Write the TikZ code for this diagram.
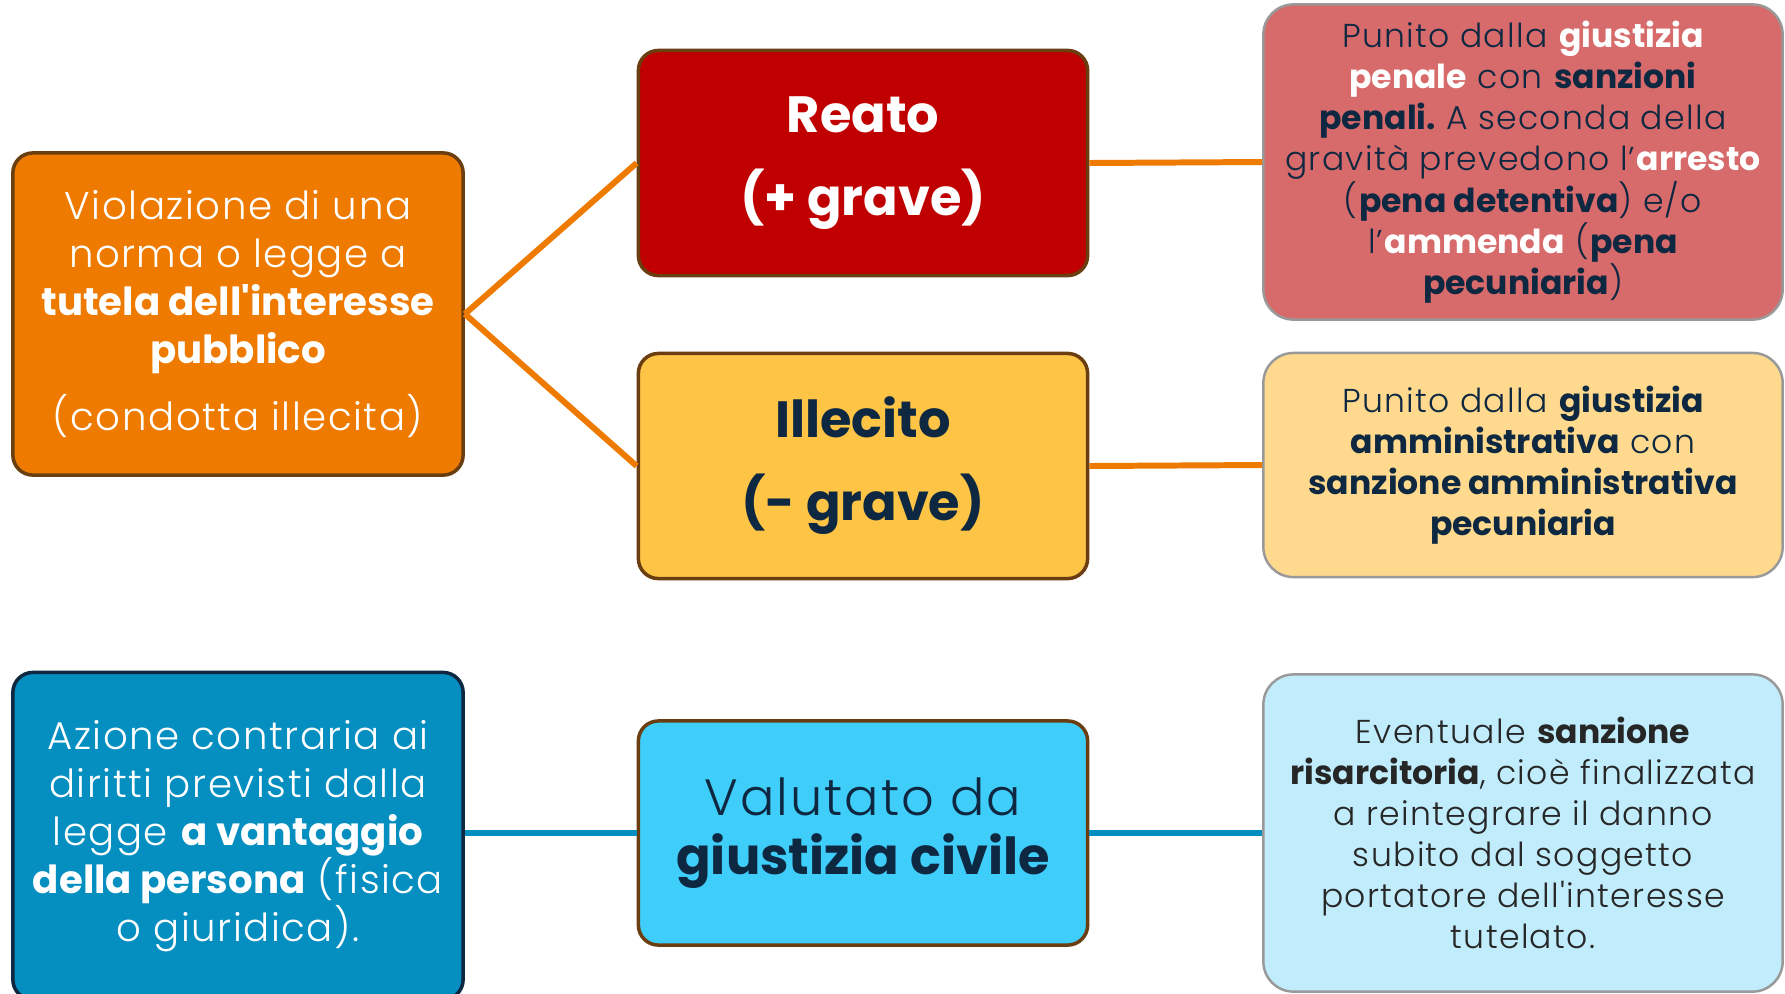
\documentclass[tikz,border=0pt]{standalone}
\usepackage{fontspec}
\defaultfontfeatures[\rmfamily]{}
\setmainfont{Poppins}[UprightFont={* Light},UprightFeatures={LetterSpace=4},BoldFont={* Bold}]
\frenchspacing
\definecolor{arancio}{HTML}{EE7B00}
\definecolor{rosso}{HTML}{C00000}
\definecolor{giallo}{HTML}{FEC446}
\definecolor{rosa}{HTML}{D76A6A}
\definecolor{crema}{HTML}{FED98E}
\definecolor{blu}{HTML}{058EC0}
\definecolor{azzurro}{HTML}{3FCDFA}
\definecolor{celeste}{HTML}{C0ECFB}
\definecolor{navy}{HTML}{0E2841}
\definecolor{bordo}{HTML}{6B3E12}
\newcommand{\wb}[1]{\textbf{\textcolor{white}{#1}}}
\begin{document}
\begin{tikzpicture}[x=0.01cm,y=-0.01cm,
		box/.style={draw=bordo, line width=1pt, rounded corners=0.2cm, align=center, inner sep=0pt},
		info/.style={draw=gray!80, line width=0.7pt, rounded corners=0.3cm, align=center, inner sep=0pt,
			minimum width=5.19cm, text=navy, font=\fontsize{9.4}{11.7}\selectfont},
		big/.style={box, minimum width=4.49cm, minimum height=2.25cm, font=\fontsize{14.5}{23.6}\selectfont\bfseries},
		side/.style={box, minimum width=4.5cm, text=white, font=\fontsize{11}{13.6}\selectfont},
		linkarancio/.style={draw=arancio, line width=1.7pt},
		linkblu/.style={draw=blu, line width=1.7pt}]
		
		\clip (0,0) rectangle (1785,993);
		\fill[white] (0,0) rectangle (1785,993);
		
		\node[side, fill=arancio, minimum height=3.22cm] (violazione) at (238,314)
			{Violazione di una\\norma o legge a\\\textbf{tutela dell'interesse}\\\textbf{pubblico}\\[5.4pt](condotta illecita)};
		\node[big, fill=rosso, text=white] (reato) at (863,163) {Reato\\(+ grave)};
		\node[big, fill=giallo, text=navy] (illecito) at (863,466) {Illecito\\(- grave)};
		\node[info, fill=rosa, minimum height=3.15cm] (penale) at (1523,162)
			{Punito dalla \wb{giustizia}\\\wb{penale} con \textbf{sanzioni}\\\textbf{penali.} A seconda della\\gravità prevedono l’\wb{arresto}\\(\textbf{pena detentiva}) e/o\\l’\wb{ammenda} (\textbf{pena}\\\textbf{pecuniaria})};
		\node[info, fill=crema, minimum height=2.24cm] (amministrativa) at (1523,465)
			{Punito dalla \textbf{giustizia}\\\textbf{amministrativa} con\\\textbf{sanzione amministrativa}\\\textbf{pecuniaria}};
		
		\node[side, fill=blu, draw=navy, minimum height=3.27cm] (azione) at (238,836)
			{Azione contraria ai\\diritti previsti dalla\\legge \textbf{a vantaggio}\\\textbf{della persona} (fisica\\o giuridica).};
		\node[box, fill=azzurro, text=navy, minimum width=4.49cm, minimum height=2.24cm,
			font=\fontsize{14.5}{16.6}\selectfont] (valutato) at (863,833) {Valutato da\\\textbf{giustizia civile}};
		\node[info, fill=celeste, text=black!85, minimum height=3.17cm] (risarcimento) at (1523,833)
			{Eventuale \textbf{sanzione}\\\textbf{risarcitoria}, cioè finalizzata\\a reintegrare il danno\\subito dal soggetto\\portatore dell'interesse\\tutelato.};
		
		\draw[linkarancio] (violazione.east) -- (reato.west);
		\draw[linkarancio] (violazione.east) -- (illecito.west);
		\draw[linkarancio] (reato.east) -- (penale.west);
		\draw[linkarancio] (illecito.east) -- (amministrativa.west);
		\draw[linkblu] (azione.east |- valutato.west) -- (valutato.west);
		\draw[linkblu] (valutato.east) -- (risarcimento.west);
	\end{tikzpicture}
\end{document}
